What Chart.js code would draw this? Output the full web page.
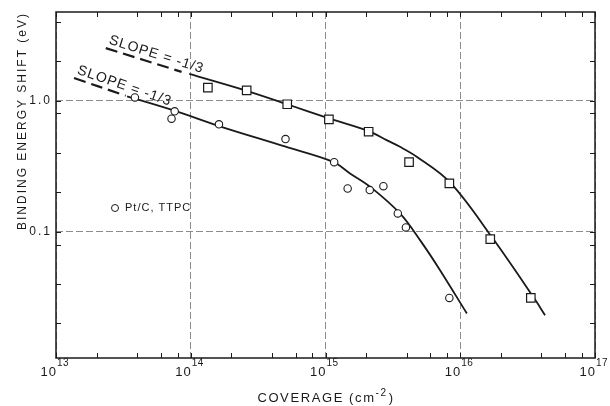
<!DOCTYPE html>
<html lang="en">
<head>
<meta charset="UTF-8">
<title>Binding energy shift vs coverage</title>
<script src="https://cdn.jsdelivr.net/npm/chart.js"></script>
<style>
  body { margin: 0; background: #fff; }
  canvas { display: block; }
</style>
</head>
<body>
<canvas id="chart" width="610" height="406"></canvas>
<script>
// measured points, squares
const squareX = [1.34e14, 2.6e14, 5.2e14, 1.06e15, 2.09e15, 4.17e15, 8.3e15, 1.67e16, 3.34e16];
const squareY = [1.26, 1.2, 0.94, 0.72, 0.58, 0.34, 0.234, 0.088, 0.0313];

// measured points, circles (Pt/C, TTPC)
const circleX = [3.85e13, 7.6e13, 7.2e13, 1.62e14, 5.05e14, 1.16e15, 1.46e15, 2.13e15, 2.69e15, 3.44e15, 3.95e15, 8.3e15];
const circleY = [1.06, 0.83, 0.73, 0.66, 0.51, 0.34, 0.214, 0.208, 0.223, 0.138, 0.108, 0.0313];

// fitted curves
const upperDashX = [2.34e13, 8.55e13];
const upperDashY = [2.52, 1.66];
const upperFitX = [9.75e13, 2.6e14, 5.19e14, 1.06e15, 2.09e15, 2.84e15, 3.57e15, 4.75e15, 8.4e15, 1.71e16, 3.48e16, 4.26e16];
const upperFitY = [1.6, 1.19, 0.94, 0.734, 0.587, 0.50, 0.445, 0.374, 0.238, 0.0916, 0.0319, 0.0231];

const lowerDashX = [1.36e13, 3.29e13];
const lowerDashY = [1.49, 1.09];
const lowerFitX = [3.37e13, 7.57e13, 1.62e14, 5.06e14, 1.14e15, 1.52e15, 2.14e15, 3.57e15, 5.03e15, 7.08e15, 1.12e16];
const lowerFitY = [1.08, 0.839, 0.641, 0.446, 0.342, 0.279, 0.221, 0.138, 0.0864, 0.051, 0.0238];

// axis ticks
const xTicks = [1e13, 2e13, 4e13, 6e13, 8e13, 1e14, 2e14, 4e14, 6e14, 8e14,
                1e15, 2e15, 4e15, 6e15, 8e15, 1e16, 2e16, 4e16, 6e16, 8e16, 1e17];
const xMajor = [1e13, 1e14, 1e15, 1e16, 1e17];
const xMajorExp = ['13', '14', '15', '16', '17'];
const yTicks = [0.02, 0.04, 0.08, 0.1, 0.2, 0.4, 0.8, 1, 2, 4];
const yMajor = [0.1, 1];
const yMajorLabels = ['0.1', '1.0'];

const slopeText = 'SLOPE = -1/3';
const legendText = 'Pt/C, TTPC';

const FONT = "'Liberation Sans', Arial, sans-serif";
const INK = '#1a1a1a';

function pts(xs, ys) {
  return xs.map((x, i) => ({ x: x, y: ys[i] }));
}
function near(v, list) {
  return list.findIndex(m => Math.abs(Math.log10(v) - Math.log10(m)) < 1e-6);
}

// frame, inward tick marks, x labels, slope labels and legend
const decorations = {
  id: 'decorations',
  beforeDraw(chart) {
    chart.ctx.letterSpacing = '2px';
  },
  afterDraw(chart) {
    const ctx = chart.ctx;
    const a = chart.chartArea;
    const xs = chart.scales.x, ys = chart.scales.y;
    ctx.save();
    ctx.strokeStyle = INK;
    ctx.lineWidth = 1;
    ctx.beginPath();
    xTicks.forEach(v => {
      const p = Math.round(xs.getPixelForValue(v)) + 0.5;
      ctx.moveTo(p, a.bottom); ctx.lineTo(p, a.bottom - 5);
      ctx.moveTo(p, a.top); ctx.lineTo(p, a.top + 5);
    });
    yTicks.forEach(v => {
      const p = Math.round(ys.getPixelForValue(v)) + 0.5;
      ctx.moveTo(a.left, p); ctx.lineTo(a.left + 5, p);
      ctx.moveTo(a.right, p); ctx.lineTo(a.right - 5, p);
    });
    ctx.stroke();
    ctx.lineWidth = 1.5;
    ctx.strokeRect(a.left, a.top, a.right - a.left, a.bottom - a.top);

    ctx.fillStyle = INK;
    ctx.textBaseline = 'alphabetic';

    // x tick labels: 10 with raised exponent
    xMajor.forEach((v, i) => {
      const p = xs.getPixelForValue(v);
      ctx.letterSpacing = '1px';
      ctx.font = '13px ' + FONT;
      ctx.textAlign = 'right';
      ctx.fillText('10', p + 1, a.bottom + 18);
      ctx.font = '10px ' + FONT;
      ctx.letterSpacing = '0.5px';
      ctx.textAlign = 'left';
      ctx.fillText(xMajorExp[i], p + 1, a.bottom + 8);
    });

    // x axis title with superscript unit
    const cx = (a.left + a.right) / 2, by = a.bottom + 44;
    ctx.letterSpacing = '1.6px';
    const t1 = 'COVERAGE (cm', t3 = ')';
    ctx.font = '10px ' + FONT;
    const w2 = ctx.measureText('-2').width;
    ctx.font = '13px ' + FONT;
    const w1 = ctx.measureText(t1).width, w3 = ctx.measureText(t3).width;
    const x0 = cx - (w1 + w2 + w3) / 2;
    ctx.textAlign = 'left';
    ctx.fillText(t1, x0, by);
    ctx.font = '10px ' + FONT;
    ctx.fillText('-2', x0 + w1, by - 6);
    ctx.font = '13px ' + FONT;
    ctx.fillText(t3, x0 + w1 + w2 + 1, by);

    // slope labels sitting on the dashed extensions
    ctx.font = '14px ' + FONT;
    ctx.letterSpacing = '1px';
    [[upperDashX, upperDashY], [lowerDashX, lowerDashY]].forEach(([dx, dy]) => {
      const px0 = xs.getPixelForValue(dx[0]), py0 = ys.getPixelForValue(dy[0]);
      const px1 = xs.getPixelForValue(dx[1]), py1 = ys.getPixelForValue(dy[1]);
      const ang = Math.atan2(py1 - py0, px1 - px0);
      ctx.save();
      ctx.translate(px0, py0);
      ctx.rotate(ang);
      ctx.fillText(slopeText, 1, -5);
      ctx.restore();
    });

    // legend
    const lx = a.left + 59, ly = a.top + 196;
    ctx.beginPath();
    ctx.arc(lx, ly, 3.5, 0, Math.PI * 2);
    ctx.lineWidth = 1;
    ctx.stroke();
    ctx.font = '11px ' + FONT;
    ctx.letterSpacing = '1px';
    ctx.textBaseline = 'middle';
    ctx.fillText(legendText, lx + 10, ly);
    ctx.restore();
  }
};

const lineStyle = {
  showLine: true,
  pointRadius: 0,
  borderColor: INK,
  borderWidth: 1.8,
  tension: 0.35,
  fill: false
};

new Chart(document.getElementById('chart'), {
  type: 'scatter',
  data: {
    datasets: [
      {
        label: 'squares',
        data: pts(squareX, squareY),
        pointStyle: 'rect',
        pointRadius: 6,
        borderColor: INK,
        borderWidth: 1.2,
        backgroundColor: '#fff'
      },
      {
        label: legendText,
        data: pts(circleX, circleY),
        pointStyle: 'circle',
        pointRadius: 3.7,
        borderColor: INK,
        borderWidth: 1.1,
        backgroundColor: '#fff'
      },
      Object.assign({ label: 'upper fit', data: pts(upperFitX, upperFitY) }, lineStyle),
      Object.assign({ label: 'upper slope', data: pts(upperDashX, upperDashY), borderDash: [12, 6] }, lineStyle, { borderWidth: 2.2 }),
      Object.assign({ label: 'lower fit', data: pts(lowerFitX, lowerFitY) }, lineStyle),
      Object.assign({ label: 'lower slope', data: pts(lowerDashX, lowerDashY), borderDash: [12, 6] }, lineStyle, { borderWidth: 2.2 })
    ]
  },
  options: {
    responsive: false,
    animation: false,
    layout: { padding: { left: 0, right: 15, top: 12, bottom: 0 } },
    plugins: {
      legend: { display: false },
      tooltip: { enabled: false }
    },
    scales: {
      x: {
        type: 'logarithmic',
        min: 1e13,
        max: 1e17,
        afterBuildTicks: s => { s.ticks = xTicks.map(v => ({ value: v })); },
        afterFit: s => { s.height = 48; },
        ticks: { display: false },
        grid: {
          drawTicks: false,
          lineWidth: 1,
          color: c => near(c.tick.value, xMajor) < 0 ? 'rgba(0,0,0,0)' : '#8c8c8c'
        },
        border: { display: false, dash: [7, 3] },
        title: { display: false }
      },
      y: {
        type: 'logarithmic',
        min: 0.0109,
        max: 4.75,
        afterBuildTicks: s => { s.ticks = yTicks.map(v => ({ value: v })); },
        afterFit: s => { s.width = 56; },
        ticks: {
          autoSkip: false,
          padding: 4,
          color: INK,
          font: { family: FONT, size: 12 },
          callback: v => { const i = near(v, yMajor); return i < 0 ? '' : yMajorLabels[i]; }
        },
        grid: {
          drawTicks: false,
          lineWidth: 1,
          color: c => near(c.tick.value, yMajor) < 0 ? 'rgba(0,0,0,0)' : '#8c8c8c'
        },
        border: { display: false, dash: [7, 3] },
        title: {
          display: true,
          text: 'BINDING ENERGY SHIFT (eV)',
          align: 'end',
          color: INK,
          font: { family: FONT, size: 12 },
          padding: { top: 15, bottom: 0 }
        }
      }
    }
  },
  plugins: [decorations]
});
</script>
</body>
</html>
